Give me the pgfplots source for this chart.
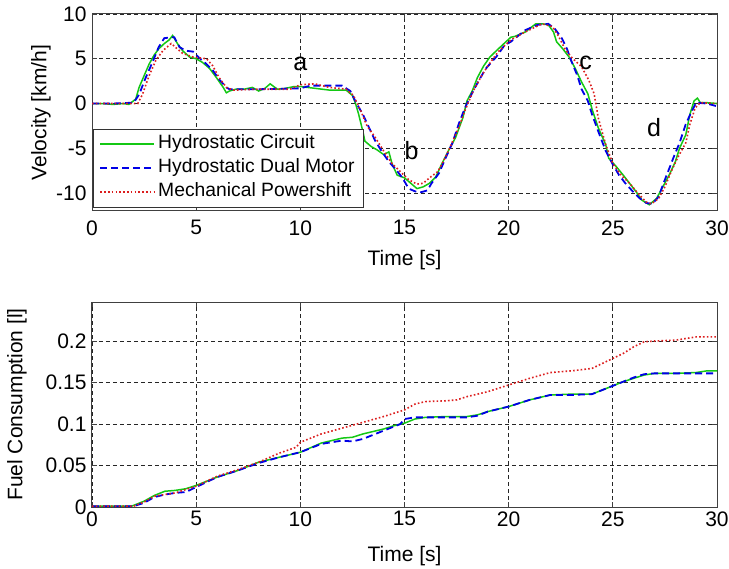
\documentclass[border=0pt]{standalone}
\usepackage{fontspec}
\setmainfont{Liberation Sans}
\usepackage{pgfplots}
\pgfplotsset{compat=1.18}

\definecolor{hcgreen}{RGB}{20,200,20}
\definecolor{hdblue}{RGB}{0,0,230}
\definecolor{mpred}{RGB}{220,30,30}

\pgfplotsset{
  matstyle/.style={
    scale only axis,
    width=625pt,
    xmin=0, xmax=30,
    xtick={0,5,10,15,20,25,30},
    xticklabels={0,5,10,15,20,25,30},
    grid=major,
    major grid style={black!85, line width=0.7pt, dash pattern=on 4pt off 3pt},
    tick align=inside,
    major tick length=5pt,
    axis line style={black!75, line width=1pt},
    tick style={black!75, line width=0.8pt},
    tick label style={font=\fontsize{21}{25}\selectfont},
    yticklabel style={xshift=-2pt},
    every axis y label/.style={at={(axis description cs:0,0.5)}, rotate=90,
      anchor=center, font=\fontsize{21}{25}\selectfont},
    every axis x label/.style={at={(axis description cs:0.5,0)}, anchor=base,
      font=\fontsize{21}{25}\selectfont},
  },
}

\begin{document}
\begin{tikzpicture}
\path[use as bounding box] (0pt,0pt) rectangle (729pt,-569pt);

% velocity
\begin{axis}[matstyle,
  at={(92pt,-211pt)}, anchor=south west,
  height=197pt,
  ymin=-12, ymax=10,
  ytick={-10,-5,0,5,10},
  yticklabels={-10,-5,0,5,10},
  xticklabel style={yshift=-6pt},
  ylabel={Velocity [km/h]},
  ylabel style={yshift=51pt},
  xlabel={Time [s]},
  xlabel style={yshift=-55pt},
  legend style={at={(axis description cs:0.002,0.02)}, anchor=south west,
    draw=black!80, inner xsep=6pt, inner ysep=4pt,
    font=\fontsize{19.3}{22}\selectfont, row sep=2pt,
    nodes={inner xsep=3pt, inner ysep=2pt, text height=14pt, text depth=4pt}},
  legend cell align=left,
  legend image code/.code={%
    \draw[mark repeat=2,mark phase=2,#1] plot coordinates {(0pt,0pt) (27pt,0pt) (54pt,0pt)};},
]
\addplot[color=hcgreen, line width=1.5pt] coordinates {
(0,0) (0.5,0) (1.0,-0.1) (1.5,0) (1.77,-0.1) (2.1,0.5) (2.26,1.8) (2.5,3.1)
(2.74,4.4) (2.98,5.4) (3.2,6.1) (3.47,6.7) (3.7,7.1) (3.87,7.6) (4.1,6.7)
(4.35,5.9) (4.68,5.2) (5.0,5.0) (5.3,4.6) (5.65,3.9) (5.97,2.9) (6.3,1.8)
(6.45,1.2) (6.6,1.4) (6.9,1.6) (7.3,1.6) (7.7,1.8) (8.0,1.4) (8.3,1.7)
(8.55,2.2) (8.9,1.6) (9.3,1.7) (9.7,1.9) (10,1.9) (10.7,1.7) (11.4,1.5)
(12.2,1.5) (12.5,0.9) (12.65,0) (12.8,-1.2) (13.0,-3.1) (13.1,-4.2)
(13.4,-4.8) (13.7,-5.2) (14.0,-5.7) (14.25,-5.4) (14.4,-6.7) (14.65,-8.0)
(15.0,-8.3) (15.3,-8.9) (15.6,-9.5) (15.9,-9.3) (16.2,-8.9) (16.5,-8.2)
(16.8,-6.7) (17.1,-5.3) (17.45,-3.8) (17.8,-1.6) (18.0,0.3) (18.25,1.4)
(18.5,2.9) (18.8,4.2) (19.1,5.2) (19.5,6.1) (20.1,7.4) (20.3,7.5) (20.8,8.0)
(21.3,8.9) (21.6,8.9) (21.9,8.8) (22.15,8.0) (22.3,6.9) (22.6,6.1) (22.9,5.2)
(23.2,3.9) (23.5,2.4) (23.8,1.1) (24.0,-0.6) (24.3,-2.7) (24.66,-4.6)
(24.8,-6.1) (25.15,-7.0) (25.5,-8.0) (25.8,-8.9) (26.1,-9.8) (26.4,-10.8)
(26.75,-11.3) (27.1,-10.6) (27.4,-9.3) (27.7,-8.0) (28.0,-6.5) (28.2,-5.0)
(28.5,-3.5) (28.7,-1.2) (28.9,0.3) (29.06,0.6) (29.2,0.1) (29.5,0.1) (30,0)
};
\addlegendentry{Hydrostatic Circuit}
\addplot[color=hdblue, line width=1.8pt, dash pattern=on 7pt off 4pt] coordinates {
(0,0) (1.0,0) (2.0,0.1) (2.26,1.0) (2.58,2.9) (2.9,4.6) (3.2,6.3) (3.47,7.3)
(3.8,7.4) (3.95,7.4) (4.2,6.3) (4.5,5.9) (4.85,5.8) (5.1,5.2) (5.5,4.4)
(5.8,3.7) (6.1,2.7) (6.45,1.8) (6.6,1.6) (8,1.6) (10,1.7) (10.5,2.0)
(12.0,2.0) (12.4,1.4) (12.7,0) (13.0,-1.2) (13.3,-2.7) (13.6,-4.2)
(13.9,-5.3) (14.25,-6.5) (14.6,-7.4) (14.9,-8.3) (15.2,-9.5) (15.5,-9.8)
(15.8,-9.9) (16.1,-9.7) (16.3,-8.9) (16.65,-7.8) (16.97,-6.1) (17.3,-4.4)
(17.6,-2.3) (17.9,-0.5) (18.25,1.2) (18.6,2.7) (18.9,3.9) (19.4,5.2)
(19.8,6.5) (20.1,6.9) (20.8,8.2) (21.4,8.8) (21.9,8.9) (22.2,8.4) (22.55,7.3)
(22.8,6.1) (23.0,4.8) (23.3,3.1) (23.5,1.6) (23.8,0.3) (24.0,-1.2)
(24.3,-3.1) (24.66,-5.3) (25.0,-6.8) (25.3,-8.0) (25.6,-8.9) (25.95,-9.8)
(26.3,-10.6) (26.6,-11.1) (26.9,-11.2) (27.2,-10.4) (27.4,-9.1) (27.65,-7.6)
(27.9,-6.1) (28.2,-4.4) (28.5,-2.3) (28.8,-0.8) (29.0,0.1) (29.5,0) (30,-0.3)
};
\addlegendentry{Hydrostatic Dual Motor}
\addplot[color=mpred, line width=1.6pt, dash pattern=on 1.6pt off 2.2pt] coordinates {
(0,0) (1,0) (2.2,0) (2.26,0.3) (2.42,1.0) (2.74,3.1) (3.06,4.8) (3.4,5.9)
(3.8,6.7) (4.0,6.3) (4.35,5.6) (4.85,5.2) (5.5,5.0) (5.8,4.2) (6.1,2.9)
(6.45,1.8) (6.8,1.5) (8,1.6) (9.5,1.6) (10,2.1) (10.7,2.2) (11.4,1.8)
(12.2,1.6) (12.55,0.9) (12.9,-0.8) (13.2,-2.5) (13.6,-3.8) (14.0,-5.3)
(14.4,-6.7) (14.8,-7.6) (15.2,-8.5) (15.6,-9.0) (15.9,-8.9) (16.2,-8.3)
(16.6,-7.6) (16.9,-6.3) (17.2,-4.8) (17.6,-2.7) (17.9,-0.8) (18.3,1.4)
(18.7,3.1) (19.0,4.2) (19.5,5.8) (20.1,7.1) (20.8,8.0) (21.6,8.9) (22.1,8.6)
(22.4,7.5) (22.7,6.1) (23.0,5.2) (23.5,4.1) (23.85,2.6) (24.1,1.1)
(24.3,-1.6) (24.66,-4.6) (25.0,-6.7) (25.4,-8.0) (25.8,-8.9) (26.2,-10.0)
(26.6,-11.0) (26.85,-11.2) (27.2,-10.6) (27.5,-9.3) (27.8,-7.6) (28.1,-6.1)
(28.5,-4.4) (28.7,-2.3) (28.95,-0.5) (29.2,0.1) (30,0)
};
\addlegendentry{Mechanical Powershift}
\node[font=\fontsize{25}{28}\selectfont, anchor=base] at (axis cs:10,3.64) {a};
\node[font=\fontsize{25}{28}\selectfont, anchor=base] at (axis cs:15.34,-6.3) {b};
\node[font=\fontsize{25}{28}\selectfont, anchor=base] at (axis cs:23.69,3.77) {c};
\node[font=\fontsize{25}{28}\selectfont, anchor=base] at (axis cs:26.98,-3.65) {d};
\end{axis}

% fuel consumption
\begin{axis}[matstyle,
  at={(92pt,-507pt)}, anchor=south west,
  height=205pt,
  ymin=0, ymax=0.247,
  ytick={0,0.05,0.1,0.15,0.2},
  yticklabels={0,0.05,0.1,0.15,0.2},
  xticklabel style={yshift=-1pt},
  ylabel={Fuel Consumption [l]},
  ylabel style={yshift=75pt},
  xlabel={Time [s]},
  xlabel style={yshift=-54pt},
]
\addplot[color=hcgreen, line width=1.5pt] coordinates {
(0,0.001) (1.9,0.001) (2.5,0.007) (3.0,0.014) (3.5,0.019) (4.0,0.020)
(4.5,0.022) (5.0,0.026) (6.0,0.036) (7.0,0.044) (8.0,0.054) (9.0,0.060)
(10,0.066) (11,0.077) (12,0.083) (12.5,0.084) (13,0.088) (14,0.094)
(14.5,0.098) (15,0.101) (15.5,0.106) (16,0.108) (17,0.109) (18,0.109)
(18.5,0.111) (19,0.115) (20,0.121) (21,0.129) (22,0.135) (23,0.136)
(24,0.136) (24.5,0.141) (25,0.146) (25.5,0.151) (26,0.155) (26.5,0.159)
(27,0.161) (28,0.161) (29,0.162) (29.5,0.164) (30,0.164)
};
\addplot[color=hdblue, line width=1.8pt, dash pattern=on 7pt off 4pt] coordinates {
(0,0.001) (2.0,0.001) (2.5,0.005) (3.0,0.012) (3.5,0.015) (4.0,0.017)
(4.5,0.018) (5.0,0.024) (6.0,0.036) (7.0,0.044) (8.0,0.053) (9.0,0.060)
(10,0.066) (11,0.076) (12,0.080) (12.5,0.079) (13,0.082) (14,0.092)
(14.8,0.100) (15,0.106) (15.5,0.108) (16,0.108) (17,0.108) (18,0.108)
(18.5,0.110) (19,0.115) (20,0.121) (21,0.129) (22,0.135) (23,0.135)
(24,0.136) (24.5,0.141) (25,0.146) (25.5,0.151) (26,0.156) (26.5,0.160)
(27,0.161) (28,0.161) (29,0.161) (30,0.161)
};
\addplot[color=mpred, line width=1.6pt, dash pattern=on 1.6pt off 2.2pt] coordinates {
(0,0.001) (2.0,0.001) (2.5,0.006) (3.0,0.013) (4.0,0.017) (5.0,0.025)
(6.0,0.037) (7.0,0.045) (8.0,0.054) (9.0,0.065) (9.8,0.072) (10,0.078)
(11,0.088) (12,0.095) (13,0.102) (14,0.109) (15,0.117) (15.5,0.124)
(16,0.127) (17,0.128) (17.5,0.129) (18,0.133) (19,0.139) (20,0.147)
(21,0.155) (22,0.162) (23,0.164) (24,0.167) (24.5,0.173) (25,0.179)
(25.5,0.185) (26,0.193) (26.5,0.199) (27,0.200) (28,0.201) (28.5,0.203)
(29,0.205) (30,0.205)
};
\end{axis}
\end{tikzpicture}
\end{document}
